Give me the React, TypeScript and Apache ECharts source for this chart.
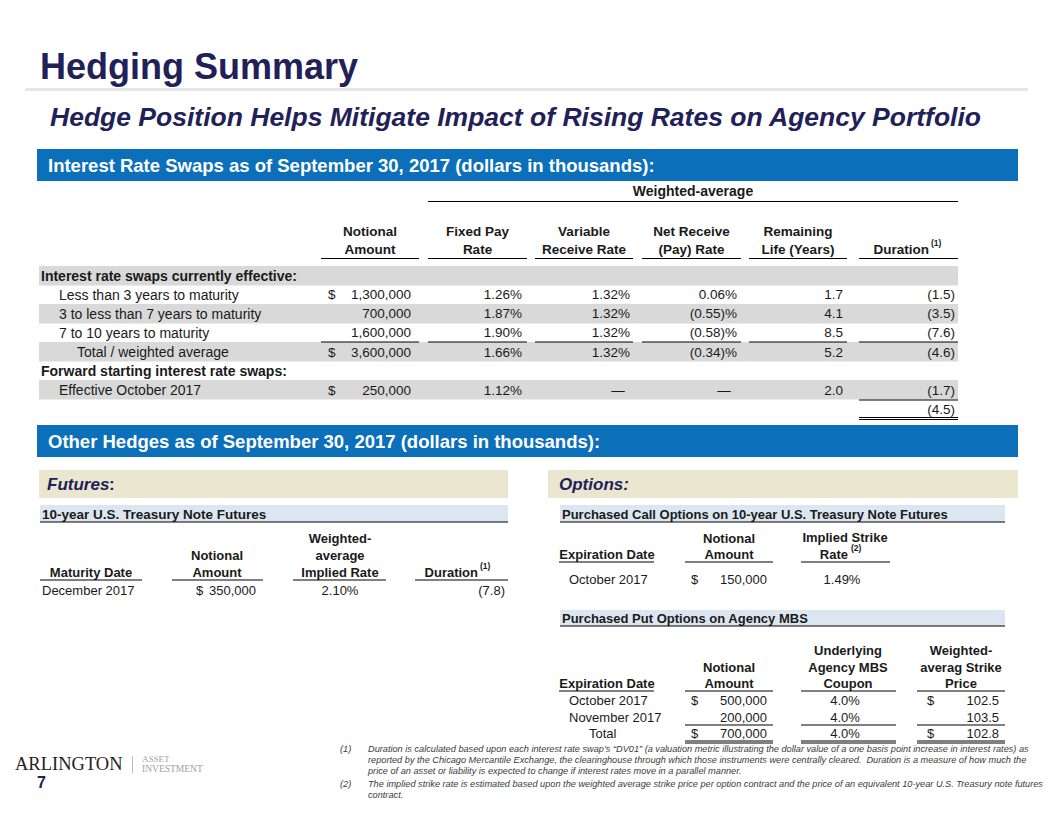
import React, { useEffect, useRef } from "react";
import * as echarts from "echarts";

// ---------- Data ----------
const pageTitle = "Hedging Summary";
const pageSubtitle = "Hedge Position Helps Mitigate Impact of Rising Rates on Agency Portfolio";
const swapBarTitle = "Interest Rate Swaps as of September 30, 2017 (dollars in thousands):";
const otherBarTitle = "Other Hedges as of September 30, 2017 (dollars in thousands):";

const swapHeaders = [
  ["Notional", "Amount"],
  ["Fixed Pay", "Rate"],
  ["Variable", "Receive Rate"],
  ["Net Receive", "(Pay) Rate"],
  ["Remaining", "Life (Years)"],
  ["", "Duration"],
];
const swapLabels = [
  "Less than 3 years to maturity",
  "3 to less than 7 years to maturity",
  "7 to 10 years to maturity",
];
const swapNotional = [1300000, 700000, 1600000];
const swapFixedPay = [1.26, 1.87, 1.9];
const swapVarReceive = [1.32, 1.32, 1.32];
const swapNet = [0.06, -0.55, -0.58];
const swapLife = [1.7, 4.1, 8.5];
const swapDuration = [-1.5, -3.5, -7.6];
const totalLabel = "Total / weighted average";
const totalNotional = 3600000;
const totalFixedPay = 1.66;
const totalVarReceive = 1.32;
const totalNet = -0.34;
const totalLife = 5.2;
const totalDuration = -4.6;
const fwdLabel = "Effective October 2017";
const fwdNotional = 250000;
const fwdFixedPay = 1.12;
const fwdLife = 2.0;
const fwdDuration = -1.7;
const netDuration = -4.5;

const futDate = "December 2017";
const futNotional = 350000;
const futRate = 2.1;
const futDuration = -7.8;

const callDate = "October 2017";
const callNotional = 150000;
const callStrikeRate = 1.49;

const putDates = ["October 2017", "November 2017"];
const putNotional = [500000, 200000];
const putCoupon = [4.0, 4.0];
const putStrike = [102.5, 103.5];
const putTotalNotional = 700000;
const putTotalCoupon = 4.0;
const putTotalStrike = 102.8;

const footnotes = [
  ["(1)", "Duration is calculated based upon each interest rate swap\u2019s \u201cDV01\u201d (a valuation metric illustrating the dollar value of a one basis point increase in interest rates) as"],
  ["", "reported by the Chicago Mercantile Exchange, the clearinghouse through which those instruments were centrally cleared.  Duration is a measure of how much the"],
  ["", "price of an asset or liability is expected to change if interest rates move in a parallel manner."],
  ["(2)", "The implied strike rate is estimated based upon the weighted average strike price per option contract and the price of an equivalent 10-year U.S. Treasury note futures"],
  ["", "contract."],
];

// ---------- Formatting ----------
const money = (v: number) => v.toLocaleString("en-US");
const pct = (v: number) => (v < 0 ? `(${Math.abs(v).toFixed(2)})%` : `${v.toFixed(2)}%`);
const pct1 = (v: number) => `${v.toFixed(1)}%`;
const dur = (v: number) => (v < 0 ? `(${Math.abs(v).toFixed(1)})` : v.toFixed(1));

// ---------- Style helpers ----------
const SANS = "'Liberation Sans', Arial, sans-serif";
const NAVY = "#1F2158";
const INK = "#1A1A1A";
const BLUE = "#0C6FBA";
const GRAY = "#D9D9D9";
const BEIGE = "#EAE6D0";
const LIGHTBLUE = "#DCE6F0";

type TOpts = {
  size?: number;
  weight?: string;
  italic?: boolean;
  color?: string;
  align?: string;
  family?: string;
};
const T = (text: string, x: number, y: number, o: TOpts = {}) => ({
  type: "text",
  x,
  y,
  silent: true,
  style: {
    text,
    fill: o.color || INK,
    fontSize: o.size || 13.5,
    fontFamily: o.family || SANS,
    fontWeight: o.weight || "normal",
    fontStyle: o.italic ? "italic" : "normal",
    align: o.align || "left",
    verticalAlign: "middle",
    textAlign: o.align || "left",
    textVerticalAlign: "middle",
  },
});
const R = (x: number, y: number, w: number, h: number, fill: string) => ({
  type: "rect",
  silent: true,
  shape: { x, y, width: w, height: h },
  style: { fill },
});
const L = (x1: number, y1: number, x2: number, y2: number, w = 1, c = "#000") => ({
  type: "line",
  silent: true,
  shape: { x1, y1, x2, y2 },
  style: { stroke: c, lineWidth: w },
});

function buildElements() {
  const els: any[] = [];

  // Title area
  els.push(T(pageTitle, 40, 66, { size: 36, weight: "bold", color: NAVY }));
  els.push(R(25, 88, 1003, 3, "#E6E6E6"));
  els.push(T(pageSubtitle, 50, 117, { size: 26.5, weight: "bold", italic: true, color: NAVY }));

  // Swap section bar
  els.push(R(37, 149, 981, 32, BLUE));
  els.push(T(swapBarTitle, 48, 165, { size: 18.5, weight: "bold", color: "#FFFFFF" }));

  // Swap table
  const colSpan = [
    [321, 419],
    [428, 527],
    [535, 633],
    [642, 741],
    [749, 847],
    [859, 958],
  ];
  els.push(T("Weighted-average", 693, 191, { weight: "bold", align: "center", size: 14 }));
  els.push(L(428, 201.5, 958, 201.5));
  swapHeaders.forEach((h, i) => {
    const cx = (colSpan[i][0] + colSpan[i][1]) / 2;
    if (i === 5) {
      els.push(T(h[1], 929, 249, { weight: "bold", align: "right", size: 13.5 }));
      els.push(T("(1)", 931, 243, { weight: "bold", size: 8.5 }));
    } else {
      els.push(T(h[0], cx, 231, { weight: "bold", align: "center", size: 13.5 }));
      els.push(T(h[1], cx, 249, { weight: "bold", align: "center", size: 13.5 }));
    }
    els.push(L(colSpan[i][0], 258.5, colSpan[i][1], 258.5));
  });

  // gray bands
  [266, 304, 342, 380].forEach((y) => els.push(R(39, y, 919, 19.5, GRAY)));

  const rowY = [275.5, 294.5, 313.5, 332.5, 352, 371, 390, 409.5];
  const rightX = [411, 522, 630, 737, 843, 955];
  const dollarX = 328;

  els.push(T("Interest rate swaps currently effective:", 41, rowY[0], { weight: "bold", size: 14 }));
  swapLabels.forEach((lab, i) => {
    const y = rowY[1 + i];
    els.push(T(lab, 59, y, { size: 14 }));
    if (i === 0) els.push(T("$", dollarX, y));
    els.push(T(money(swapNotional[i]), rightX[0], y, { align: "right" }));
    els.push(T(pct(swapFixedPay[i]), rightX[1], y, { align: "right" }));
    els.push(T(pct(swapVarReceive[i]), rightX[2], y, { align: "right" }));
    els.push(T(pct(swapNet[i]), rightX[3], y, { align: "right" }));
    els.push(T(swapLife[i].toFixed(1), rightX[4], y, { align: "right" }));
    els.push(T(dur(swapDuration[i]), rightX[5], y, { align: "right" }));
  });
  colSpan.forEach((s) => els.push(L(s[0], 342, s[1], 342)));
  {
    const y = rowY[4];
    els.push(T(totalLabel, 77, y, { size: 14 }));
    els.push(T("$", dollarX, y));
    els.push(T(money(totalNotional), rightX[0], y, { align: "right" }));
    els.push(T(pct(totalFixedPay), rightX[1], y, { align: "right" }));
    els.push(T(pct(totalVarReceive), rightX[2], y, { align: "right" }));
    els.push(T(pct(totalNet), rightX[3], y, { align: "right" }));
    els.push(T(totalLife.toFixed(1), rightX[4], y, { align: "right" }));
    els.push(T(dur(totalDuration), rightX[5], y, { align: "right" }));
  }
  els.push(T("Forward starting interest rate swaps:", 41, rowY[5], { weight: "bold", size: 14 }));
  {
    const y = rowY[6];
    els.push(T(fwdLabel, 59, y, { size: 14 }));
    els.push(T("$", dollarX, y));
    els.push(T(money(fwdNotional), rightX[0], y, { align: "right" }));
    els.push(T(pct(fwdFixedPay), rightX[1], y, { align: "right" }));
    els.push(T("\u2014", 618, y, { align: "center" }));
    els.push(T("\u2014", 724, y, { align: "center" }));
    els.push(T(fwdLife.toFixed(1), rightX[4], y, { align: "right" }));
    els.push(T(dur(fwdDuration), rightX[5], y, { align: "right" }));
  }
  els.push(L(859, 400, 958, 400));
  els.push(T(dur(netDuration), rightX[5], rowY[7], { align: "right" }));
  els.push(L(859, 417.5, 958, 417.5));
  els.push(L(859, 419.5, 958, 419.5));

  // Other hedges bar
  els.push(R(37, 425, 981, 32, BLUE));
  els.push(T(otherBarTitle, 48, 441, { size: 18.5, weight: "bold", color: "#FFFFFF" }));

  // Futures
  els.push(R(39, 470, 469, 28, BEIGE));
  els.push(T("Futures", 47, 484, { size: 17, weight: "bold", italic: true, color: NAVY }));
  els.push(T(":", 109, 484, { size: 17, weight: "bold", color: NAVY }));
  els.push(R(40, 505, 468, 17, LIGHTBLUE));
  els.push(T("10-year U.S. Treasury Note Futures", 42, 514, { size: 13.5, weight: "bold" }));
  els.push(L(40, 522, 508, 522));
  const fSpan = [
    [40, 142],
    [172, 263],
    [293, 386],
    [415, 508],
  ];
  els.push(T("Maturity Date", 91, 572, { weight: "bold", size: 13, align: "center" }));
  els.push(T("Notional", 217, 555, { weight: "bold", size: 13, align: "center" }));
  els.push(T("Amount", 217, 572, { weight: "bold", size: 13, align: "center" }));
  els.push(T("Weighted-", 340, 538, { weight: "bold", size: 13, align: "center" }));
  els.push(T("average", 340, 555, { weight: "bold", size: 13, align: "center" }));
  els.push(T("Implied Rate", 340, 572, { weight: "bold", size: 13, align: "center" }));
  els.push(T("Duration", 478, 572, { weight: "bold", size: 13, align: "right" }));
  els.push(T("(1)", 480, 566, { weight: "bold", size: 8.5 }));
  fSpan.forEach((s) => els.push(L(s[0], 580, s[1], 580)));
  els.push(T(futDate, 42, 590, { size: 13 }));
  els.push(T("$", 196, 590, { size: 13 }));
  els.push(T(money(futNotional), 256, 590, { size: 13, align: "right" }));
  els.push(T(pct(futRate), 340, 590, { size: 13, align: "center" }));
  els.push(T(dur(futDuration), 505, 590, { size: 13, align: "right" }));

  // Options
  els.push(R(548, 470, 470, 28, BEIGE));
  els.push(T("Options:", 559, 484, { size: 17, weight: "bold", italic: true, color: NAVY }));
  els.push(R(560, 505, 445, 17, LIGHTBLUE));
  els.push(T("Purchased Call Options on 10-year U.S. Treasury Note Futures", 562, 514, { size: 13, weight: "bold" }));
  els.push(L(560, 522, 1005, 522));
  const cSpan = [
    [559, 654],
    [685, 773],
    [801, 890],
  ];
  els.push(T("Expiration Date", 607, 554, { weight: "bold", size: 13, align: "center" }));
  els.push(T("Notional", 729, 538, { weight: "bold", size: 13, align: "center" }));
  els.push(T("Amount", 729, 554, { weight: "bold", size: 13, align: "center" }));
  els.push(T("Implied Strike", 845, 537, { weight: "bold", size: 13, align: "center" }));
  els.push(T("Rate", 848, 554, { weight: "bold", size: 13, align: "right" }));
  els.push(T("(2)", 851, 548, { weight: "bold", size: 8.5 }));
  cSpan.forEach((s) => els.push(L(s[0], 562, s[1], 562)));
  els.push(T(callDate, 569, 579, { size: 13 }));
  els.push(T("$", 691, 579, { size: 13 }));
  els.push(T(money(callNotional), 767, 579, { size: 13, align: "right" }));
  els.push(T(pct(callStrikeRate), 842, 579, { size: 13, align: "center" }));

  els.push(R(560, 610, 445, 16, LIGHTBLUE));
  els.push(T("Purchased Put Options on Agency MBS", 562, 618, { size: 13, weight: "bold" }));
  els.push(L(560, 626, 1005, 626));
  const pSpan = [
    [559, 654],
    [685, 773],
    [801, 896],
    [917, 1005],
  ];
  els.push(T("Expiration Date", 607, 683, { weight: "bold", size: 13, align: "center" }));
  els.push(T("Notional", 729, 667, { weight: "bold", size: 13, align: "center" }));
  els.push(T("Amount", 729, 683, { weight: "bold", size: 13, align: "center" }));
  els.push(T("Underlying", 848, 650, { weight: "bold", size: 13, align: "center" }));
  els.push(T("Agency MBS", 848, 667, { weight: "bold", size: 13, align: "center" }));
  els.push(T("Coupon", 848, 683, { weight: "bold", size: 13, align: "center" }));
  els.push(T("Weighted-", 961, 650, { weight: "bold", size: 13, align: "center" }));
  els.push(T("averag Strike", 961, 667, { weight: "bold", size: 13, align: "center" }));
  els.push(T("Price", 961, 683, { weight: "bold", size: 13, align: "center" }));
  pSpan.forEach((s) => els.push(L(s[0], 691, s[1], 691)));
  const putY = [700, 717];
  putDates.forEach((d, i) => {
    const y = putY[i];
    els.push(T(d, 569, y, { size: 13 }));
    if (i === 0) {
      els.push(T("$", 691, y, { size: 13 }));
      els.push(T("$", 927, y, { size: 13 }));
    }
    els.push(T(money(putNotional[i]), 767, y, { size: 13, align: "right" }));
    els.push(T(pct1(putCoupon[i]), 845, y, { size: 13, align: "center" }));
    els.push(T(putStrike[i].toFixed(1), 999, y, { size: 13, align: "right" }));
  });
  pSpan.slice(1).forEach((s) => els.push(L(s[0], 725, s[1], 725)));
  els.push(T("Total", 589, 733, { size: 13 }));
  els.push(T("$", 691, 733, { size: 13 }));
  els.push(T(money(putTotalNotional), 767, 733, { size: 13, align: "right" }));
  els.push(T(pct1(putTotalCoupon), 845, 733, { size: 13, align: "center" }));
  els.push(T("$", 927, 733, { size: 13 }));
  els.push(T(putTotalStrike.toFixed(1), 999, 733, { size: 13, align: "right" }));
  pSpan.slice(1).forEach((s) => {
    els.push(L(s[0], 741, s[1], 741));
    els.push(L(s[0], 743, s[1], 743));
  });

  // Logo + page number
  const SERIF = "'Liberation Serif', 'DejaVu Serif', serif";
  els.push(T("ARLINGTON", 15, 764, { size: 18.5, family: SERIF, color: "#222222" }));
  els.push(L(132.5, 756, 132.5, 773, 1, "#BBBBBB"));
  els.push(T("ASSET", 142, 759, { size: 9, family: SERIF, color: "#A0A0A0" }));
  els.push(T("INVESTMENT", 142, 769, { size: 9.5, family: SERIF, color: "#A0A0A0" }));
  els.push(T("7", 37, 782, { size: 16, weight: "bold", color: NAVY }));

  // Footnotes
  const fnY = [749, 760, 771, 784, 795];
  footnotes.forEach((f, i) => {
    if (f[0]) els.push(T(f[0], 340, fnY[i], { size: 9.2, italic: true, color: "#3A3A3A" }));
    els.push(T(f[1], 368, fnY[i], { size: 9.2, italic: true, color: "#3A3A3A" }));
  });

  return els;
}

export default function App() {
  const ref = useRef<HTMLDivElement>(null);
  useEffect(() => {
    if (!ref.current) return;
    const chart = echarts.init(ref.current, undefined, { renderer: "svg" });
    chart.setOption({
      animation: false,
      backgroundColor: "#FFFFFF",
      graphic: { elements: buildElements() },
    });
    return () => chart.dispose();
  }, []);
  return (
    <div
      ref={ref}
      style={{ position: "fixed", left: 0, top: 0, width: 1056, height: 816, background: "#fff" }}
    />
  );
}
